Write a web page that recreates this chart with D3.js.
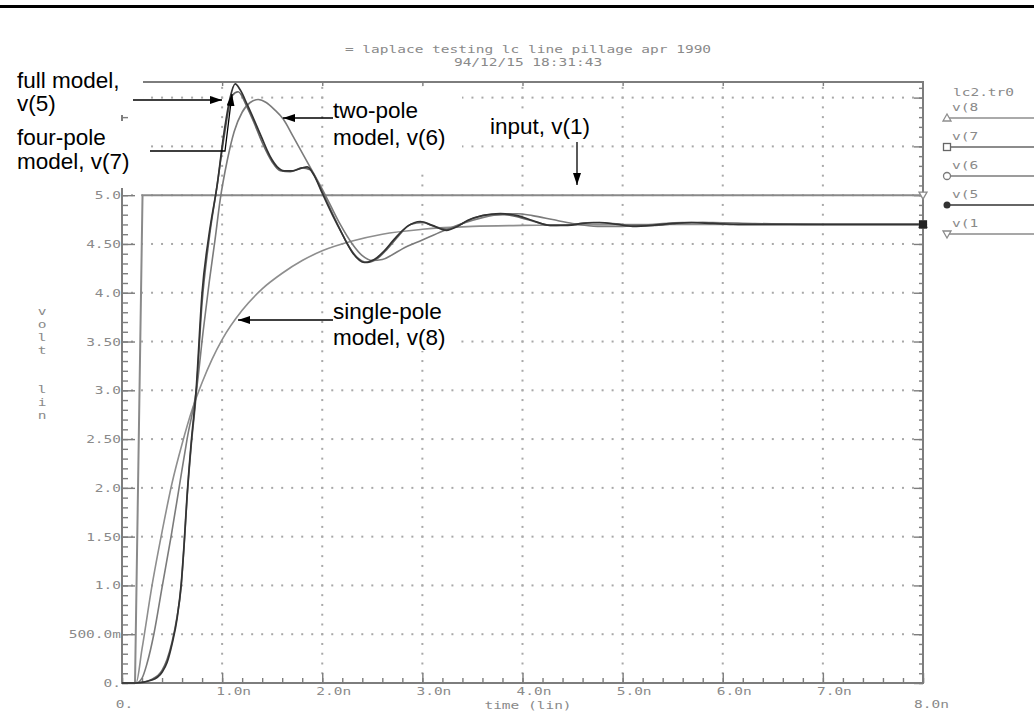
<!DOCTYPE html>
<html>
<head>
<meta charset="utf-8">
<script src="https://cdn.jsdelivr.net/npm/d3@7"></script>
<style>
  html, body { margin: 0; padding: 0; background: #fff; }
  svg { display: block; }
</style>
</head>
<body>
<svg id="chart" width="1034" height="727"></svg>
<script>
// ---------------- data (time in ns, voltage in V) ----------------
const titleLines = ["= laplace testing lc line pillage apr 1990", "94/12/15 18:31:43"];
const fileName = "lc2.tr0";

const xTickVals   = [0, 1, 2, 3, 4, 5, 6, 7, 8];
const xTickLabels = ["0.", "1.0n", "2.0n", "3.0n", "4.0n", "5.0n", "6.0n", "7.0n", "8.0n"];
const yTickVals   = [0, 0.5, 1, 1.5, 2, 2.5, 3, 3.5, 4, 4.5, 5, 5.5, 6];
// the two top labels sit under the annotation panels and are left blank
const yTickLabels = ["0.", "500.0m", "1.0", "1.50", "2.0", "2.50", "3.0", "3.50", "4.0", "4.50", "5.0", "", ""];
const xTitle = "time (lin)";
const yTitle = "volt  lin";

// input step, v(1)
const tIn = [0, 0.13, 0.205, 8.0];
const vIn = [0, 0, 5.0, 5.0];

// single-pole model, v(8)
const tSingle = [0, 0.14, 0.2, 0.3, 0.4, 0.5, 0.6, 0.7, 0.8, 0.9, 1.0, 1.2, 1.4, 1.6, 1.8, 2.0, 2.3, 2.6, 3.0, 3.5, 4.0, 5.0, 6.0, 7.0, 8.0];
const vSingle = [0, 0, 0.35, 1.0, 1.55, 2.05, 2.45, 2.8, 3.08, 3.32, 3.52, 3.82, 4.04, 4.2, 4.33, 4.43, 4.53, 4.6, 4.65, 4.68, 4.69, 4.7, 4.7, 4.7, 4.7];

// two-pole model, v(6)
const tTwo = [0, 0.14, 0.2, 0.25, 0.32, 0.4, 0.49, 0.57, 0.65, 0.75, 0.81, 0.87, 0.93, 0.98, 1.05, 1.12, 1.2, 1.28, 1.36, 1.44, 1.52, 1.61, 1.71, 1.84, 1.98, 2.08, 2.18, 2.3, 2.4, 2.5, 2.6, 2.7, 2.8, 3.0, 3.2, 3.4, 3.6, 3.8, 3.95, 4.1, 4.3, 4.5, 4.75, 5.0, 5.3, 5.6, 5.9, 6.3, 7.0, 8.0];
const vTwo = [0, 0, 0.05, 0.2, 0.51, 0.98, 1.5, 2.0, 2.5, 3.05, 3.6, 4.1, 4.55, 4.95, 5.35, 5.65, 5.85, 5.95, 5.98, 5.95, 5.88, 5.78, 5.6, 5.36, 5.1, 4.9, 4.7, 4.5, 4.38, 4.33, 4.34, 4.39, 4.45, 4.54, 4.63, 4.71, 4.77, 4.805, 4.81, 4.79, 4.75, 4.71, 4.68, 4.68, 4.7, 4.72, 4.72, 4.71, 4.7, 4.7];

// four-pole model, v(7)
const tFour = [0, 0.14, 0.3, 0.4, 0.45, 0.5, 0.55, 0.59, 0.62, 0.65, 0.69, 0.74, 0.8, 0.87, 0.95, 1.02, 1.1, 1.16, 1.25, 1.32, 1.4, 1.5, 1.58, 1.68, 1.8, 1.88, 1.96, 2.04, 2.14, 2.24, 2.34, 2.45, 2.55, 2.65, 2.76, 2.88, 3.0, 3.12, 3.25, 3.38, 3.5, 3.65, 3.82, 3.98, 4.15, 4.3, 4.5, 4.7, 4.9, 5.1, 5.3, 5.55, 5.8, 6.1, 6.5, 7.0, 8.0];
const vFour = [0, 0, 0.04, 0.13, 0.24, 0.42, 0.68, 0.98, 1.4, 1.9, 2.42, 2.95, 3.9, 4.55, 5.1, 5.6, 6.02, 6.06, 5.9, 5.74, 5.54, 5.34, 5.25, 5.24, 5.28, 5.26, 5.12, 4.95, 4.73, 4.52, 4.37, 4.31, 4.35, 4.45, 4.58, 4.7, 4.72, 4.68, 4.65, 4.7, 4.76, 4.8, 4.8, 4.77, 4.72, 4.69, 4.7, 4.72, 4.71, 4.69, 4.69, 4.71, 4.72, 4.7, 4.7, 4.7, 4.7];

// full model, v(5)
const tFull = [0, 0.14, 0.3, 0.4, 0.45, 0.5, 0.55, 0.59, 0.62, 0.65, 0.69, 0.74, 0.8, 0.87, 0.95, 1.02, 1.08, 1.13, 1.18, 1.25, 1.32, 1.4, 1.45, 1.5, 1.55, 1.62, 1.7, 1.8, 1.85, 1.92, 2.0, 2.1, 2.2, 2.31, 2.42, 2.52, 2.62, 2.72, 2.85, 2.98, 3.1, 3.24, 3.35, 3.45, 3.6, 3.78, 3.95, 4.1, 4.27, 4.45, 4.6, 4.77, 4.95, 5.1, 5.3, 5.5, 5.69, 5.9, 6.2, 6.6, 7.0, 8.0];
const vFull = [0, 0, 0.03, 0.11, 0.21, 0.4, 0.66, 1.0, 1.42, 1.92, 2.45, 3.0, 4.0, 4.6, 5.1, 5.65, 6.0, 6.14, 6.08, 5.93, 5.77, 5.58, 5.46, 5.36, 5.29, 5.25, 5.25, 5.28, 5.29, 5.2, 5.02, 4.8, 4.6, 4.4, 4.31, 4.34, 4.43, 4.55, 4.68, 4.73, 4.69, 4.64, 4.68, 4.74, 4.79, 4.81, 4.79, 4.74, 4.69, 4.69, 4.71, 4.72, 4.7, 4.68, 4.69, 4.71, 4.72, 4.71, 4.7, 4.7, 4.7, 4.7];

// plotted traces, in drawing order
const traces = [
  { key: "v(1", t: tIn,     v: vIn,     color: "#8a8a8a", width: 2.0, marker: "tridown" },
  { key: "v(8", t: tSingle, v: vSingle, color: "#8e8e8e", width: 1.6, marker: "triup" },
  { key: "v(6", t: tTwo,    v: vTwo,    color: "#7b7b7b", width: 1.6, marker: "circle" },
  { key: "v(7", t: tFour,   v: vFour,   color: "#666666", width: 1.6, marker: "square" },
  { key: "v(5", t: tFull,   v: vFull,   color: "#333333", width: 1.7, marker: "dot" }
];
const legendOrder = ["v(8", "v(7", "v(6", "v(5", "v(1"];

// ---------------- layout ----------------
const svg = d3.select("#chart");
const x = d3.scaleLinear().domain([0, 8]).range([122, 923]);
const y = d3.scaleLinear().domain([0, 6.16]).range([683, 82]);

const mono = "'DejaVu Sans Mono', monospace";
const axisGrey = "#7d7d7d";
const textGrey = "#8a8a8a";
const stretch = 1.45;          // wide plotter-style lettering
const monoSize = 10;

// heavy rule across the top of the sheet
svg.append("rect").attr("x", 0).attr("y", 5).attr("width", 1034).attr("height", 3).attr("fill", "#000");

// title block
const titleG = svg.append("g").attr("font-family", mono).attr("font-size", monoSize).attr("fill", textGrey);
titleLines.forEach((s, i) => {
  titleG.append("text")
    .attr("transform", `translate(528,${53 + i * 13}) scale(${stretch},1)`)
    .attr("text-anchor", "middle")
    .text(s);
});

// dotted grid: one dot every 0.1 unit along each major line
const xMajor = xTickVals.slice(1, -1);
const yMajor = yTickVals.slice(1);
const xFine = d3.range(1, 80).map(i => i / 10);
const yFine = d3.range(1, 62).map(i => i / 10).filter(v => v < 6.16);
const grid = svg.append("g").attr("fill", "#a8a8a8");
yMajor.forEach(gv => {
  grid.selectAll(null).data(xFine).join("rect")
    .attr("x", d => x(d) - 1).attr("y", y(gv) - 1).attr("width", 2).attr("height", 2);
});
xMajor.forEach(gt => {
  grid.selectAll(null).data(yFine).join("rect")
    .attr("x", x(gt) - 1).attr("y", d => y(d) - 1).attr("width", 2).attr("height", 2);
});

// frame
svg.append("rect")
  .attr("x", x(0)).attr("y", y(6.16))
  .attr("width", x(8) - x(0)).attr("height", y(0) - y(6.16))
  .attr("fill", "none").attr("stroke", axisGrey).attr("stroke-width", 2);

function styleAxis(g) {
  g.select(".domain").remove();
  g.selectAll("line").attr("stroke", axisGrey).attr("stroke-width", 1.4);
  g.attr("font-family", mono).attr("font-size", monoSize);
  g.selectAll("text").attr("fill", textGrey);
}

// bottom axis: minor ticks every 0.2 ns, major every 1 ns
svg.append("g").attr("transform", `translate(0,${y(0)})`)
  .call(d3.axisBottom(x).tickValues(d3.range(0, 8.001, 0.2)).tickSize(-5).tickFormat(""))
  .call(styleAxis);
const xAx = svg.append("g").attr("transform", `translate(0,${y(0)})`)
  .call(d3.axisBottom(x).tickValues(xTickVals).tickSize(-10).tickFormat((d, i) => xTickLabels[i]))
  .call(styleAxis);
const lastX = xTickVals.length - 1;
xAx.selectAll("text")
  .attr("y", 0).attr("dy", 0)
  .attr("transform", (d, i) => (i === 0 || i === lastX)
    ? `translate(${i === 0 ? 2 : 8},25) scale(${stretch},1)`
    : `translate(11,12) scale(${stretch},1)`);

// top border ticks
svg.append("g").attr("transform", `translate(0,${y(6.16)})`)
  .call(d3.axisTop(x).tickValues(xMajor).tickSize(-4).tickFormat(""))
  .call(styleAxis);

// left axis: minor every 0.1 V, major every 0.5 V
svg.append("g").attr("transform", `translate(${x(0)},0)`)
  .call(d3.axisLeft(y).tickValues(d3.range(0, 6.11, 0.1)).tickSize(-6).tickFormat(""))
  .call(styleAxis);
const yAx = svg.append("g").attr("transform", `translate(${x(0)},0)`)
  .call(d3.axisLeft(y).tickValues(yTickVals).tickSize(-13).tickFormat((d, i) => yTickLabels[i]))
  .call(styleAxis);
yAx.selectAll("text")
  .attr("x", 0).attr("dy", "0.35em")
  .attr("transform", `translate(-1,0) scale(${stretch},1)`)
  .attr("text-anchor", "end");

// right border ticks
svg.append("g").attr("transform", `translate(${x(8)},0)`)
  .call(d3.axisRight(y).tickValues(d3.range(0, 6.11, 0.1)).tickSize(-4).tickFormat(""))
  .call(styleAxis);
svg.append("g").attr("transform", `translate(${x(8)},0)`)
  .call(d3.axisRight(y).tickValues(yTickVals).tickSize(-9).tickFormat(""))
  .call(styleAxis);

// axis titles
const at = svg.append("g").attr("font-family", mono).attr("font-size", monoSize).attr("fill", textGrey);
at.append("text").attr("transform", `translate(528,709) scale(${stretch},1)`).attr("text-anchor", "middle").text(xTitle);
yTitle.split("").forEach((ch, i) => {
  at.append("text").attr("transform", `translate(42,${315 + i * 13}) scale(${stretch},1)`)
    .attr("text-anchor", "middle").text(ch);
});

// traces
const line = d3.line().x(d => x(d[0])).y(d => y(d[1]));
traces.forEach(tr => {
  const pts = tr.t.map((t, i) => [t, tr.v[i]]);
  svg.append("path")
    .attr("d", line.curve(tr.key === "v(1" ? d3.curveLinear : d3.curveMonotoneX)(pts))
    .attr("fill", "none").attr("stroke", tr.color).attr("stroke-width", tr.width)
    .attr("stroke-linejoin", "round");
});

// marker symbols
function drawMarker(g, kind, cx, cy, color) {
  const m = g.append("g").attr("transform", `translate(${cx},${cy})`);
  if (kind === "triup") m.append("path").attr("d", "M0,-4L4,3L-4,3Z").attr("fill", "#fff").attr("stroke", color).attr("stroke-width", 1.3);
  if (kind === "tridown") m.append("path").attr("d", "M-4,-3L4,-3L0,4Z").attr("fill", "#fff").attr("stroke", color).attr("stroke-width", 1.3);
  if (kind === "square") m.append("rect").attr("x", -3.5).attr("y", -3.5).attr("width", 7).attr("height", 7).attr("fill", "#fff").attr("stroke", color).attr("stroke-width", 1.3);
  if (kind === "circle") m.append("circle").attr("r", 3.5).attr("fill", "#fff").attr("stroke", color).attr("stroke-width", 1.3);
  if (kind === "dot") m.append("circle").attr("r", 3.5).attr("fill", color);
}

// end-of-trace markers on the right border
traces.forEach(tr => {
  const n = tr.t.length - 1;
  drawMarker(svg, tr.marker, x(tr.t[n]), y(tr.v[n]), tr.color);
});
svg.append("rect").attr("x", x(8) - 4).attr("y", y(4.7) - 4).attr("width", 8).attr("height", 8).attr("fill", "#222");

// legend
const lg = svg.append("g").attr("font-family", mono).attr("font-size", monoSize).attr("fill", textGrey);
lg.append("text").attr("transform", `translate(953,96) scale(${stretch},1)`).text(fileName);
legendOrder.forEach((k, i) => {
  const tr = traces.find(d => d.key === k);
  const ly = 118 + i * 29;
  lg.append("text").attr("transform", `translate(952,${ly - 7}) scale(${stretch},1)`).text(k);
  lg.append("line").attr("x1", 947).attr("x2", 1034).attr("y1", ly).attr("y2", ly)
    .attr("stroke", tr.color).attr("stroke-width", 1.5);
  drawMarker(lg, tr.marker, 947, ly, tr.color);
});

// ---------------- annotations ----------------
const ann = svg.append("g");
// white label panels
[[0, 62, 143, 53], [0, 121, 150, 67], [326, 87, 136, 80], [486, 112, 118, 28], [329, 301, 130, 50]]
  .forEach(r => ann.append("rect").attr("x", r[0]).attr("y", r[1]).attr("width", r[2]).attr("height", r[3]).attr("fill", "#fff"));

const defs = svg.append("defs");
defs.append("marker").attr("id", "head").attr("viewBox", "0 0 12 8").attr("refX", 12).attr("refY", 4)
  .attr("markerWidth", 12).attr("markerHeight", 8).attr("markerUnits", "userSpaceOnUse").attr("orient", "auto")
  .append("path").attr("d", "M0,0L12,4L0,8Z").attr("fill", "#000");

const arrows = [
  [[133, 100], [222, 100]],
  [[150, 151], [225, 151], [232, 94]],
  [[333, 118], [283, 118]],
  [[577, 142], [577, 185]],
  [[333, 320], [238, 320]]
];
arrows.forEach(p => ann.append("path").attr("d", d3.line()(p)).attr("fill", "none")
  .attr("stroke", "#000").attr("stroke-width", 1.3).attr("marker-end", "url(#head)"));

const labels = [
  ["full model,", 17, 88], ["v(5)", 17, 111],
  ["four-pole", 17, 145], ["model, v(7)", 17, 169],
  ["two-pole", 333, 118], ["model, v(6)", 333, 145],
  ["input, v(1)", 490, 134],
  ["single-pole", 333, 319], ["model, v(8)", 333, 345]
];
ann.selectAll(null).data(labels).join("text")
  .attr("x", d => d[1]).attr("y", d => d[2])
  .attr("font-family", "'Liberation Sans', Arial, sans-serif").attr("font-size", 22.5).attr("fill", "#000")
  .text(d => d[0]);
</script>
</body>
</html>
